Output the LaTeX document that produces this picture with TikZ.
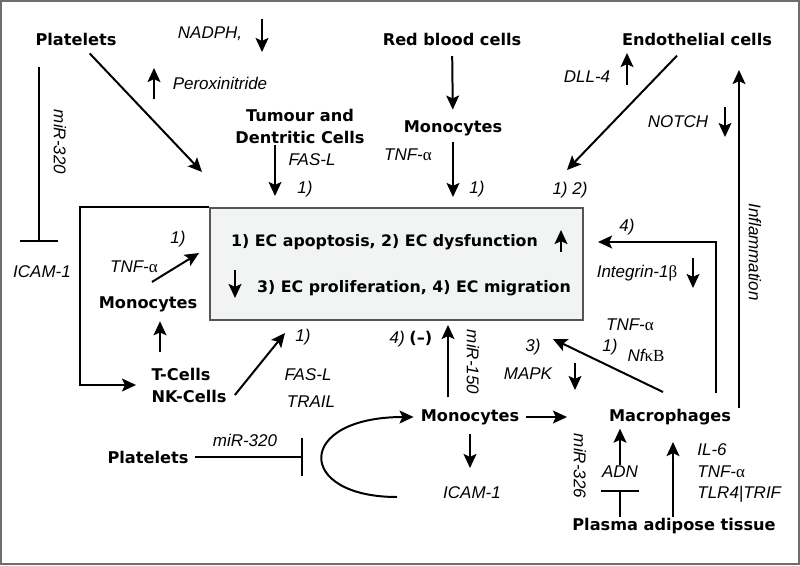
\documentclass[tikz,border=0pt]{standalone}
\usepackage{fontspec}
\setmainfont{Liberation Sans}
\newfontfamily\cellfont{DejaVu Sans}
\newfontfamily\grk{Liberation Serif}
\usepackage{tikz}
\usetikzlibrary{arrows.meta}
\definecolor{boxfill}{HTML}{F1F4F2}
\definecolor{boxline}{HTML}{555555}
\definecolor{framegray}{HTML}{6E6E6E}
\newcommand{\alp}{{\grk\upshape α}}

\begin{document}
\begin{tikzpicture}[x=0.3mm, y=-0.3mm,
  cell/.style={font=\cellfont\bfseries\fontsize{13.8}{18.8}\selectfont, inner sep=1pt},
  ectxt/.style={font=\cellfont\bfseries\fontsize{13.5}{16}\selectfont, inner sep=1pt},
  lbl/.style={font=\itshape\fontsize{14.5}{18.3}\selectfont, inner sep=1pt},
  arr/.style={line width=1.7pt, -{Stealth[length=12pt,width=11pt,inset=2.5pt]}},
  blk/.style={line width=1.7pt, -{Bar[width=33pt]}}]
% \draw (0,0) grid (800,565);
\useasboundingbox (0,0) rectangle (800,565);
\draw[framegray, line width=1.5pt] (1,1) rectangle (799,564);

% top row
\node[cell] (plt1) at (76,39) {Platelets};
\node[lbl] (nadph) at (210,34) {NADPH,};
\node[lbl] (perox) at (220,83) {Peroxinitride};
\node[cell, align=center] (tum) at (300,126) {Tumour and\\Dentritic Cells};
\node[lbl] (fasl1) at (312,160) {FAS-L};
\node[lbl] (n1a) at (305,189) {1)};
\node[cell] (rbc) at (452,39) {Red blood cells};
\node[cell] (mono1) at (453,128) {Monocytes};
\node[lbl] (tnf1) at (408,155) {TNF-\alp};
\node[lbl] (n1b) at (477,189) {1)};
\node[cell] (endo) at (697,39) {Endothelial cells};
\node[lbl] (dll) at (587,77) {DLL-4};
\node[lbl] (notch) at (678,122) {NOTCH};
\node[lbl] (n12) at (570,190) {1) 2)};
\node[lbl, rotate=-90] (infl) at (755,252) {Inflammation};
\node[lbl, rotate=-90] (mir1) at (60,142) {miR-320};
\node[lbl] (icam1) at (42,272) {ICAM-1};

% central box
\node[draw=boxline, fill=boxfill, line width=1.2pt, minimum width=111.9mm, minimum height=33.6mm, inner sep=0pt] (ec) at (396.5,264) {};
\node[ectxt] (ec1) at (384.5,242) {1) EC apoptosis, 2) EC dysfunction};
\node[ectxt] (ec2) at (414,288) {3) EC proliferation, 4) EC migration};

% left side
\node[lbl] (tnf2) at (134,267) {TNF-\alp};
\node[lbl] (n1c) at (178,239) {1)};
\node[cell] (mono2) at (148,304) {Monocytes};
\node[cell, align=left] (tnk) at (189,385) {T-Cells\\NK-Cells};
\node[lbl] (n1d) at (303,337) {1)};
\node[lbl] (fasl2) at (308,375) {FAS-L};
\node[lbl] (trail) at (311,402) {TRAIL};
\node[cell] (plt2) at (148,457) {Platelets};
\node[lbl] (mir2) at (245,440) {miR-320};

% bottom centre
\node[cell] (mono3) at (470,417) {Monocytes};
\node[lbl] (n4a) at (411,339) {4) {\cellfont\bfseries\upshape\fontsize{13.8}{16}\selectfont(–)}};
\node[lbl, rotate=-90] (mir3) at (473,362) {miR-150};
\node[lbl] (icam2) at (472,493) {ICAM-1};

% right side
\node[cell] (macro) at (670,417) {Macrophages};
\node[lbl] (n4b) at (627,227) {4)};
\node[lbl] (integ) at (637,273) {Integrin-1{\grk\upshape β}};
\node[lbl] (tnf3) at (630,325) {TNF-\alp};
\node[lbl] (n1e) at (610,347) {1)};
\node[lbl] (nfkb) at (646,355) {Nf{\grk\upshape κB}};
\node[lbl] (n3) at (533,347) {3)};
\node[lbl] (mapk) at (528,374) {MAPK};
\node[lbl, rotate=-90] (mir4) at (580,466) {miR-326};
\node[lbl] (adn) at (620,472) {ADN};
\node[lbl, align=left, anchor=west] (il6) at (696,473) {IL-6\\TNF-\alp\\TLR4|TRIF};
\node[cell] (pat) at (674,526) {Plasma adipose tissue};

% free ends
\coordinate (a1) at (202,172);
\coordinate (a2) at (275,196);
\coordinate (a3) at (453,197);
\coordinate (a4) at (567,170);
\coordinate (a5) at (160,323);
\coordinate (a6) at (285,333);
\coordinate (a7) at (448,325);
\coordinate (a8) at (567,417);
\coordinate (a9) at (598,242);
\coordinate (a10) at (716,393);
\coordinate (a11) at (553,339);
\coordinate (a12) at (673,442);
\coordinate (i2) at (739,70);
\coordinate (b1) at (39,67);
\coordinate (b2) at (39,242);
\coordinate (b3) at (303,457);
\coordinate (b4) at (620,490);
\coordinate (c0) at (397,497);

% connectors
\draw[arr, shorten <=8pt] (plt1) -- (a1);
\draw[blk] (b1) -- (b2);
\draw[arr] (tum.south -| a2) -- (a2);
\draw[arr, shorten <=8pt, shorten >=8pt] (rbc) -- (mono1);
\draw[arr, shorten <=4pt] (mono1.south) -- (a3);
\draw[arr] ([shift={(-20,9)}]endo.south) -- (a4);
\draw[arr] (macro.north east -| i2) -- (i2);
\draw[arr, shorten >=12pt] (ec.north west) -| (80,385) -- (tnk.west);
\draw[arr] ([shift={(4,-13)}]mono2.north) -- (199,253);
\draw[arr, shorten <=12pt, shorten >=7pt] (tnk.north -| a5) -- (mono2.south -| a5);
\draw[arr] ([shift={(7,10)}]tnk.east) -- (a6);
\draw[blk, shorten <=4pt] (plt2.east) -- (b3);
\draw[arr, shorten >=5pt] (c0) .. controls (295,497) and (295,417) .. (mono3.west);
\draw[arr, shorten <=9pt] (mono3.north -| a7) -- (a7);
\draw[arr, shorten <=7pt, shorten >=15pt] (mono3.south) -- (mono3.south |- icam2.north);
\draw[arr, shorten <=5pt] (mono3.east) -- (a8);
\draw[arr] (a10) |- (a9);
\draw[arr] (663,392) -- (a11);
\draw[arr, shorten >=2pt] (adn.north) -- (adn.north |- macro.south);
\draw[line width=1.7pt, -{Bar[width=32pt]}] (pat.north -| b4) -- (b4);
\draw[arr] (pat.north -| a12) -- (a12);

% up and down marks
\draw[arr] (262,19) -- (262,52);
\draw[arr] (154,99) -- (154,68);
\draw[arr] (627,85) -- (627,53);
\draw[arr] (725,107) -- (725,137);
\draw[arr] (561,252) -- (561,230);
\draw[arr] (235,270) -- (235,298);
\draw[arr] (575,363) -- (575,390);
\draw[arr] (693,258) -- (693,288);
\end{tikzpicture}
\end{document}
